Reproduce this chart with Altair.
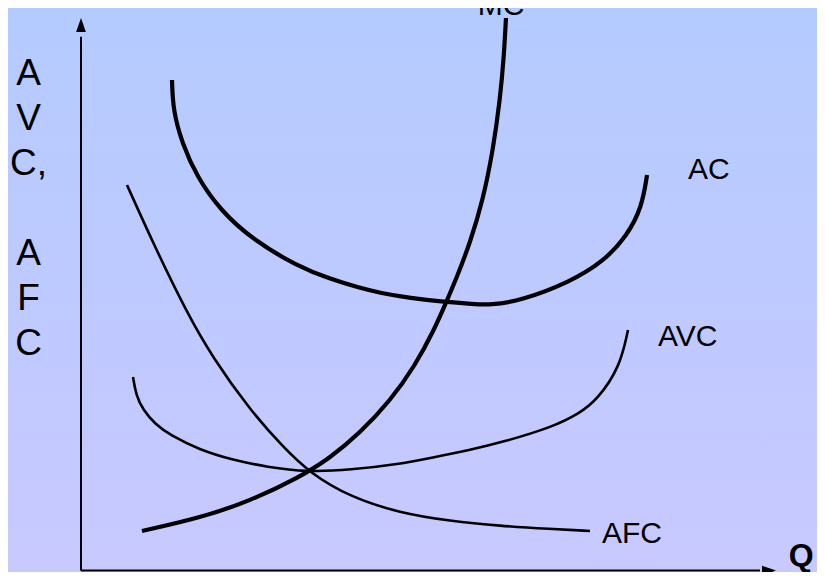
import altair as alt
import pandas as pd

# ---- data (Q = quantity, C = cost per unit) ----
mc_q = [8.71, 17.0, 24.14, 31.29, 35.57, 39.86, 44.14, 47.71, 50.57, 52.0, 53.71, 55.57, 57.43, 58.86, 59.86, 60.43, 60.71]
mc_c = [7.64, 10.0, 13.09, 17.45, 20.91, 25.45, 31.27, 37.64, 44.55, 48.73, 53.82, 60.0, 67.82, 76.91, 86.0, 94.18, 100.91]

ac_q = [13.0, 13.14, 14.43, 16.57, 19.86, 24.57, 30.86, 35.57, 39.86, 42.71, 47.0, 52.0, 56.0, 58.43, 62.71, 69.86, 74.57, 78.0, 80.14, 80.86]
ac_c = [89.64, 84.18, 78.18, 72.0, 66.0, 60.55, 55.82, 53.45, 51.82, 50.91, 50.0, 49.27, 48.91, 48.73, 49.45, 52.91, 56.55, 61.27, 66.55, 72.36]

avc_q = [7.43, 7.86, 8.86, 10.57, 12.71, 17.0, 21.71, 26.57, 32.29, 38.43, 45.57, 49.86, 55.57, 60.29, 67.43, 71.29, 73.71, 77.0, 78.14]
avc_c = [35.64, 32.36, 29.64, 27.09, 25.09, 22.36, 20.55, 19.27, 18.36, 18.73, 19.82, 20.91, 22.36, 23.82, 26.55, 29.09, 31.45, 37.45, 44.18]

afc_q = [6.57, 10.29, 15.14, 18.86, 24.14, 28.86, 32.71, 38.43, 45.57, 52.71, 59.86, 67.0, 72.71]
afc_c = [70.55, 60.0, 47.27, 39.09, 29.64, 22.91, 18.18, 13.82, 10.91, 9.45, 8.55, 8.0, 7.64]

curve_names = ["MC", "AC", "AVC", "AFC"]
label_q = [60.0, 86.71, 82.43, 74.43]
label_c = [101.45, 71.6, 41.27, 5.45]
label_align = ["center", "left", "left", "left"]

y_title_top = ["A", "V", "C,"]
y_title_bottom = ["A", "F", "C"]
x_title = "Q"

# axis extent (in data units)
axis_c0 = 0.45
axis_q_end = 97.0
axis_c_end = 97.5
arrow_q = 98.29
arrow_c = 99.64

# ---- layout ----
W, H = 809, 564
X_DOM = [(8 - 81) / 7, (817 - 81) / 7]
Y_DOM = [(573 - 572) / 5.5, (573 - 8) / 5.5]
FONT = "Liberation Sans"

xs = alt.Scale(domain=X_DOM, nice=False, zero=False)
ys = alt.Scale(domain=Y_DOM, nice=False, zero=False)

bg = alt.Chart(pd.DataFrame({"a": [0]})).mark_rect(
    color=alt.LinearGradient(
        gradient="linear", x1=0, y1=0, x2=0, y2=1,
        stops=[alt.GradientStop(color="#b4cbff", offset=0),
               alt.GradientStop(color="#c8c9ff", offset=1)],
    )
).encode(x=alt.value(0), x2=alt.value(W), y=alt.value(0), y2=alt.value(H))

series = [
    ("MC", mc_q, mc_c, 4.2),
    ("AC", ac_q, ac_c, 4.2),
    ("AVC", avc_q, avc_c, 2.6),
    ("AFC", afc_q, afc_c, 2.6),
]
layers = [bg]

# axes
axes_df = pd.DataFrame({"q": [0, 0], "c": [axis_c0, axis_c0], "q2": [axis_q_end, 0], "c2": [axis_c0, axis_c_end]})
layers.append(
    alt.Chart(axes_df).mark_rule(color="black", strokeWidth=2).encode(
        x=alt.X("q:Q", scale=xs, axis=None), x2="q2",
        y=alt.Y("c:Q", scale=ys, axis=None), y2="c2",
    )
)
layers.append(
    alt.Chart(pd.DataFrame({"q": [0.0], "c": [arrow_c]})).mark_point(
        shape="M0,-1L0.7,1L-0.7,1Z", size=196, filled=True, color="black", opacity=1
    ).encode(x=alt.X("q:Q", scale=xs, axis=None), y=alt.Y("c:Q", scale=ys, axis=None))
)
layers.append(
    alt.Chart(pd.DataFrame({"q": [arrow_q], "c": [axis_c0]})).mark_point(
        shape="M1,0L-1,-0.7L-1,0.7Z", size=196, filled=True, color="black", opacity=1
    ).encode(x=alt.X("q:Q", scale=xs, axis=None), y=alt.Y("c:Q", scale=ys, axis=None))
)

for name, q, c, sw in series:
    df = pd.DataFrame({"q": q, "c": c, "i": range(len(q))})
    layers.append(
        alt.Chart(df).mark_line(color="black", strokeWidth=sw, interpolate="basis").encode(
            x=alt.X("q:Q", scale=xs, axis=None),
            y=alt.Y("c:Q", scale=ys, axis=None),
            order="i:O",
        )
    )

for name, lq, lc, al in zip(curve_names, label_q, label_c, label_align):
    layers.append(
        alt.Chart(pd.DataFrame({"q": [lq], "c": [lc], "t": [name]})).mark_text(
            font=FONT, fontSize=30, align=al, baseline="alphabetic", color="black"
        ).encode(x=alt.X("q:Q", scale=xs, axis=None), y=alt.Y("c:Q", scale=ys, axis=None), text="t:N")
    )

# x title
layers.append(
    alt.Chart(pd.DataFrame({"q": [101.1], "c": [1.3], "t": [x_title]})).mark_text(
        font=FONT, fontSize=32, fontWeight="bold", align="left", baseline="alphabetic", color="black"
    ).encode(x=alt.X("q:Q", scale=xs, axis=None), y=alt.Y("c:Q", scale=ys, axis=None), text="t:N")
)

# y title (stacked letters, two groups)
for lines, c0 in [(y_title_top, 88.73), (y_title_bottom, 56.0)]:
    layers.append(
        alt.Chart(pd.DataFrame({"q": [-7.5], "c": [c0]})).mark_text(
            font=FONT, fontSize=37, align="center", baseline="alphabetic", color="black", lineHeight=45
        ).encode(x=alt.X("q:Q", scale=xs, axis=None), y=alt.Y("c:Q", scale=ys, axis=None),
                 text=alt.value(lines))
    )

chart = alt.layer(*layers).properties(
    width=W, height=H, autosize=alt.AutoSizeParams(type="none"), padding=0
).configure_view(stroke=None).configure(background="#bfcaff")

chart.save("out.html", embed_options={"renderer": "svg", "actions": False})
